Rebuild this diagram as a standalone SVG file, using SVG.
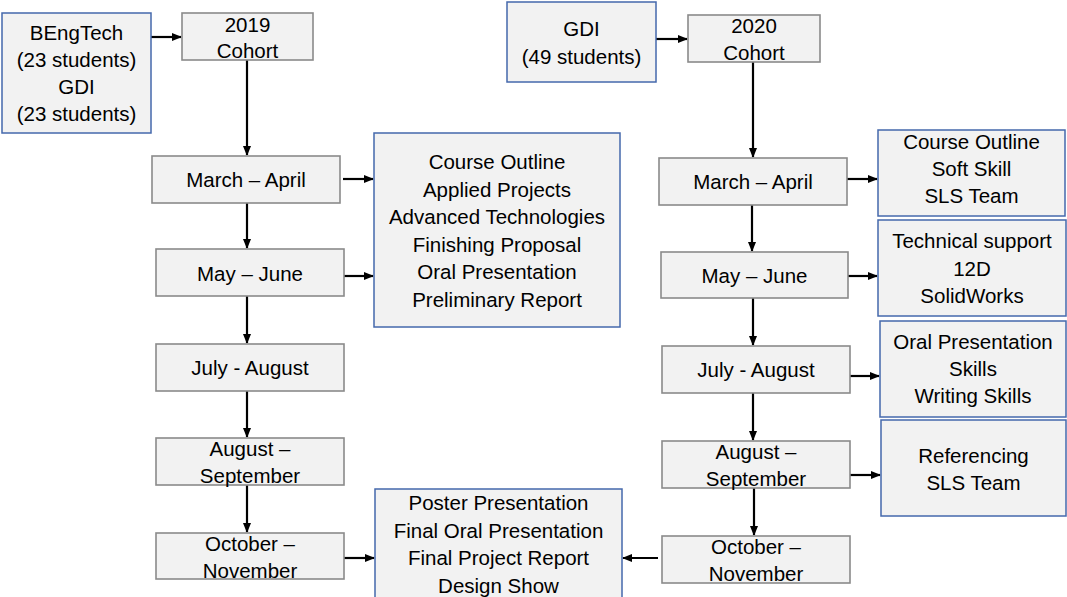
<svg xmlns="http://www.w3.org/2000/svg" width="1067" height="597" viewBox="0 0 1067 597">
<style>
.t{font-family:"Liberation Sans",Arial,sans-serif;font-size:20.5px;fill:#000;text-anchor:middle}
.g{fill:#f2f2f2;stroke:#8a8a8a;stroke-width:1.6}
.b{fill:#f2f2f2;stroke:#4468ac;stroke-width:1.5}
.c{stroke:#000;stroke-width:2.2;fill:none;marker-end:url(#ah)}
</style>
<defs>
<marker id="ah" markerWidth="10" markerHeight="8" refX="9" refY="4" orient="auto" markerUnits="userSpaceOnUse">
<path d="M0,0 L10,4 L0,8 Z" fill="#000"/>
</marker>
</defs>
<rect width="1067" height="597" fill="#fff"/>
<g id="connectors">
<path class="c" d="M151,37 H181"/>
<path class="c" d="M247,60 V155"/>
<path class="c" d="M247,203 V248"/>
<path class="c" d="M247,296 V343"/>
<path class="c" d="M247,391 V437"/>
<path class="c" d="M247,485 V532"/>
<path class="c" d="M343,179 H373"/>
<path class="c" d="M344,276 H373"/>
<path class="c" d="M344,558 H374"/>
<path class="c" d="M656,39 H687"/>
<path class="c" d="M753,62 V157"/>
<path class="c" d="M752,205 V251"/>
<path class="c" d="M753,298 V345"/>
<path class="c" d="M753,393 V440"/>
<path class="c" d="M754,488 V535"/>
<path class="c" d="M847,179 H877"/>
<path class="c" d="M848,276 H877"/>
<path class="c" d="M850,376 H879"/>
<path class="c" d="M850,475 H880"/>
<path class="c" d="M658,558 H623"/>
</g>
<g id="bengtech">
<rect class="b" x="2" y="13" width="149" height="120"/>
<text class="t" x="76.5" y="39.5">BEngTech</text>
<text class="t" x="76.5" y="67">(23 students)</text>
<text class="t" x="76.5" y="94">GDI</text>
<text class="t" x="76.5" y="121">(23 students)</text>
</g>
<g id="cohort2019">
<rect class="g" x="182" y="13" width="131" height="47"/>
<text class="t" x="247.5" y="32">2019</text>
<text class="t" x="247.5" y="58">Cohort</text>
</g>
<g id="l-mar">
<rect class="g" x="152" y="156" width="188" height="47"/>
<text class="t" x="246" y="187">March – April</text>
</g>
<g id="l-may">
<rect class="g" x="156" y="249" width="188" height="47"/>
<text class="t" x="250" y="281">May – June</text>
</g>
<g id="l-jul">
<rect class="g" x="156" y="344" width="188" height="47"/>
<text class="t" x="250" y="375">July - August</text>
</g>
<g id="l-aug">
<rect class="g" x="156" y="438" width="188" height="47"/>
<text class="t" x="250" y="456">August –</text>
<text class="t" x="250" y="483">September</text>
</g>
<g id="l-oct">
<rect class="g" x="156" y="533" width="188" height="46"/>
<text class="t" x="250" y="551">October –</text>
<text class="t" x="250" y="578">November</text>
</g>
<g id="l-topics">
<rect class="b" x="374" y="133" width="246" height="194"/>
<text class="t" x="497" y="169">Course Outline</text>
<text class="t" x="497" y="196.5">Applied Projects</text>
<text class="t" x="497" y="224">Advanced Technologies</text>
<text class="t" x="497" y="251.5">Finishing Proposal</text>
<text class="t" x="497" y="279">Oral Presentation</text>
<text class="t" x="497" y="306.5">Preliminary Report</text>
</g>
<g id="final">
<rect class="b" x="375" y="489" width="247" height="125"/>
<text class="t" x="498.5" y="510">Poster Presentation</text>
<text class="t" x="498.5" y="537.5">Final Oral Presentation</text>
<text class="t" x="498.5" y="565">Final Project Report</text>
<text class="t" x="498.5" y="592.5">Design Show</text>
</g>
<g id="gdi2020">
<rect class="b" x="507" y="2" width="149" height="80"/>
<text class="t" x="581.5" y="36">GDI</text>
<text class="t" x="581.5" y="63.5">(49 students)</text>
</g>
<g id="cohort2020">
<rect class="g" x="688" y="15" width="132" height="47"/>
<text class="t" x="754" y="33">2020</text>
<text class="t" x="754" y="60">Cohort</text>
</g>
<g id="r-mar">
<rect class="g" x="659" y="158" width="188" height="47"/>
<text class="t" x="753" y="189">March – April</text>
</g>
<g id="r-may">
<rect class="g" x="661" y="252" width="187" height="46"/>
<text class="t" x="754.5" y="282.5">May – June</text>
</g>
<g id="r-jul">
<rect class="g" x="662" y="346" width="188" height="47"/>
<text class="t" x="756" y="377">July - August</text>
</g>
<g id="r-aug">
<rect class="g" x="662" y="441" width="188" height="47"/>
<text class="t" x="756" y="459">August –</text>
<text class="t" x="756" y="486">September</text>
</g>
<g id="r-oct">
<rect class="g" x="662" y="536" width="188" height="47"/>
<text class="t" x="756" y="554">October –</text>
<text class="t" x="756" y="581">November</text>
</g>
<g id="r-course">
<rect class="b" x="878" y="130" width="187" height="86"/>
<text class="t" x="971.5" y="149">Course Outline</text>
<text class="t" x="971.5" y="176">Soft Skill</text>
<text class="t" x="971.5" y="203">SLS Team</text>
</g>
<g id="r-tech">
<rect class="b" x="878" y="220" width="188" height="96"/>
<text class="t" x="972" y="248">Technical support</text>
<text class="t" x="972" y="276">12D</text>
<text class="t" x="972" y="303">SolidWorks</text>
</g>
<g id="r-oral">
<rect class="b" x="880" y="321" width="186" height="96"/>
<text class="t" x="973" y="349">Oral Presentation</text>
<text class="t" x="973" y="376">Skills</text>
<text class="t" x="973" y="403">Writing Skills</text>
</g>
<g id="r-ref">
<rect class="b" x="881" y="420" width="185" height="96"/>
<text class="t" x="973.5" y="463">Referencing</text>
<text class="t" x="973.5" y="490">SLS Team</text>
</g>
</svg>
